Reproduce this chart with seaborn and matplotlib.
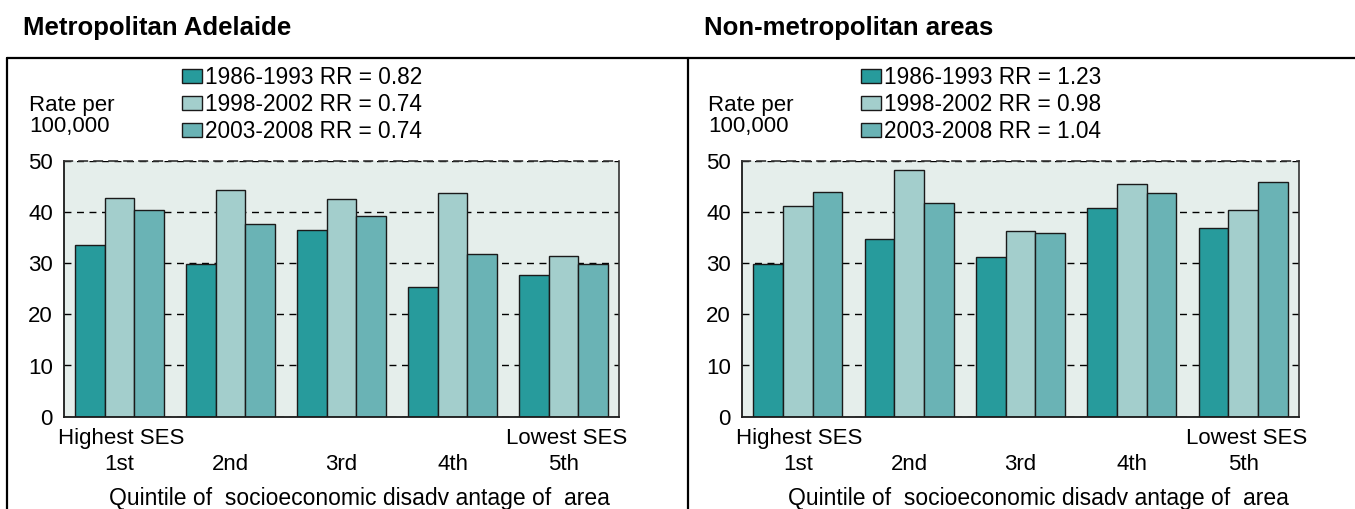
import numpy as np
import pandas as pd
import seaborn as sns
import matplotlib.pyplot as plt
from matplotlib.lines import Line2D

# ---------------- data ----------------
quintiles = ["1st", "2nd", "3rd", "4th", "5th"]
periods = ["1986-1993", "1998-2002", "2003-2008"]

metro_1986 = [33.6, 29.9, 36.5, 25.4, 27.6]
metro_1998 = [42.7, 44.2, 42.6, 43.7, 31.3]
metro_2003 = [40.3, 37.6, 39.2, 31.8, 29.9]
metro_rr = ["0.82", "0.74", "0.74"]

nonmetro_1986 = [29.8, 34.8, 31.1, 40.8, 36.8]
nonmetro_1998 = [41.2, 48.1, 36.3, 45.4, 40.4]
nonmetro_2003 = [43.9, 41.7, 35.9, 43.6, 45.8]
nonmetro_rr = ["1.23", "0.98", "1.04"]

panel_titles = ["Metropolitan Adelaide", "Non-metropolitan areas"]
y_ticks = [0, 10, 20, 30, 40, 50]
x_label = "Quintile of  socioeconomic disadv antage of  area"
left_end_label = "Highest SES"
right_end_label = "Lowest SES"
y_title = "Rate per\n100,000"

colors = ["#279B9C", "#A3CECC", "#6AB3B5"]
bg = "#E5EEEB"


def make_df(a, b, c):
    rows = []
    for p, vals in zip(periods, [a, b, c]):
        for q, v in zip(quintiles, vals):
            rows.append({"quintile": q, "period": p, "rate": v})
    return pd.DataFrame(rows)


panels = [
    (make_df(metro_1986, metro_1998, metro_2003), metro_rr),
    (make_df(nonmetro_1986, nonmetro_1998, nonmetro_2003), nonmetro_rr),
]

sns.set_theme(style="white")
plt.rcParams["font.family"] = ["Liberation Sans", "DejaVu Sans"]
plt.rcParams["text.color"] = "black"
plt.rcParams["axes.labelcolor"] = "black"
plt.rcParams["xtick.color"] = "black"
plt.rcParams["ytick.color"] = "black"

W, H = 1355, 509
fig = plt.figure(figsize=(W / 100, H / 100), dpi=100)


def fx(x):
    return x / W


def fy(y):
    return 1 - y / H


FS = 16
offsets = [0, 679]
axes_px = [(64, 555), (742, 557)]
title_x = [23, 704]
plot_top, plot_bot = 160.7, 416.7

for i, ((df, rr), off, (axl, axw)) in enumerate(zip(panels, offsets, axes_px)):
    ax = fig.add_axes([fx(axl), fy(plot_bot), axw / W, (plot_bot - plot_top) / H])
    sns.barplot(data=df, x="quintile", y="rate", hue="period", order=quintiles,
                hue_order=periods, palette=colors, saturation=1, width=0.8,
                edgecolor="#1a1a1a", linewidth=1.0, ax=ax, errorbar=None)
    ax.set_facecolor(bg)
    ax.set_ylim(0, 50)
    ax.set_xlim(-0.5, 4.5)
    ax.set_yticks(y_ticks)
    ax.set_ylabel("")
    ax.set_xlabel("")
    ax.set_axisbelow(True)
    ax.grid(axis="y", color="black", linestyle=(0, (5, 4)), linewidth=1.0)
    ax.grid(axis="x", visible=False)
    for s in ["left", "bottom"]:
        ax.spines[s].set_color("#1a1a1a")
        ax.spines[s].set_linewidth(1.3)
    ax.spines["right"].set_color("#333333")
    ax.spines["right"].set_linewidth(1.2)
    ax.spines["top"].set_color("#333333")
    ax.spines["top"].set_linestyle((0, (5, 4)))
    ax.spines["top"].set_linewidth(1.2)
    ax.tick_params(axis="y", length=0, pad=8, labelsize=FS, labelcolor="black")
    ax.tick_params(axis="x", length=0, pad=27, labelsize=FS, labelcolor="black")

    ax.text(-0.011, -0.087, left_end_label, transform=ax.transAxes, ha="left",
            va="center", fontsize=FS)
    ax.text(1.0144, -0.087, right_end_label, transform=ax.transAxes, ha="right",
            va="center", fontsize=FS)
    ax.text(0.533, -0.318, x_label, transform=ax.transAxes, ha="center",
            va="center", fontsize=16.5)

    handles, _ = ax.get_legend_handles_labels()
    if ax.get_legend() is not None:
        ax.get_legend().remove()
    labels = [f"{p} RR = {r}" for p, r in zip(periods, rr)]
    ax.legend(handles, labels, loc="upper left",
              bbox_to_anchor=(fx(182 + off), fy(66)), bbox_transform=fig.transFigure,
              frameon=False, borderpad=0, borderaxespad=0, fontsize=16.3,
              handlelength=0.9, handleheight=0.55, handletextpad=0.12,
              labelspacing=0.18)

    fig.text(fx(title_x[i]), fy(35), panel_titles[i],
             fontsize=18.5, fontweight="bold", ha="left", va="baseline")
    fig.text(fx(29 + off), fy(95), y_title, fontsize=FS, ha="left", va="top",
             linespacing=1.0)

# panel frames
frame_kw = dict(color="black", linewidth=1.6, transform=fig.transFigure)
fig.add_artist(Line2D([fx(7), fx(W)], [fy(58), fy(58)], **frame_kw))
fig.add_artist(Line2D([fx(7), fx(7)], [fy(58), 0], **frame_kw))
fig.add_artist(Line2D([fx(688), fx(688)], [fy(58), 0], **frame_kw))

fig.savefig("out.png", dpi=100)
